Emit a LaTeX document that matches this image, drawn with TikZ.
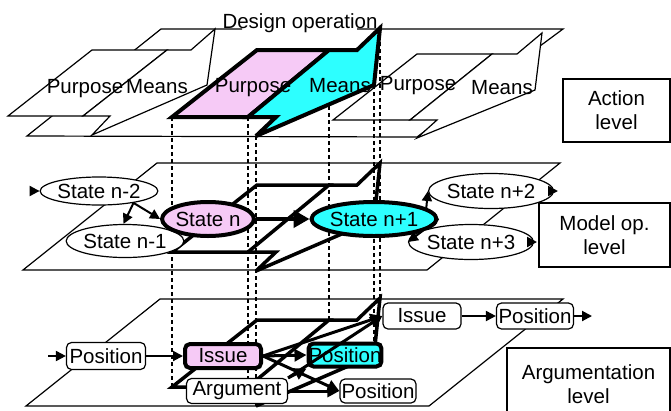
\documentclass[tikz,border=0pt]{standalone}
\usepackage{fontspec}
\setmainfont{Liberation Sans}
\usetikzlibrary{shapes.geometric,arrows.meta}

\definecolor{oppink}{RGB}{246,202,246}
\definecolor{opcyan}{RGB}{45,255,255}

\tikzset{
    lbl/.style={font=\fontsize{20.5}{24}\selectfont},
    plane/.style={line width=1.2pt},
    sheet/.style={draw,fill=white,line width=1.2pt},
    opsheet/.style={draw,line width=4pt,line join=miter,miter limit=4},
    proj/.style={line width=3.5pt,line join=miter,miter limit=4},
    drop/.style={line width=2.2pt,dash pattern=on 4pt off 3pt},
    statenode/.style={ellipse,draw,fill=white,line width=1.2pt,inner sep=0pt,lbl},
    ibisnode/.style={rectangle,rounded corners=5pt,draw,fill=white,line width=1.2pt,inner sep=0pt,lbl},
    levelbox/.style={rectangle,draw,fill=white,line width=1.2pt,align=center,lbl},
    arr/.style={-{Triangle[length=10pt,width=10pt]},line width=2pt},
    bigarr/.style={-{Triangle[length=16pt,width=17pt]},line width=4pt},
    ibisarr/.style={-{Triangle[length=12pt,width=12pt]},line width=3pt},
}

\begin{document}
\begin{tikzpicture}[x=1pt,y=-1pt]
    \clip (0,0) rectangle (671,410);

    %PLANE
    \draw[plane] (242,29) -- (161,29) -- (27,136) -- (417,137) -- (563,29) -- (357,29);
    \draw[plane] (157,163) -- (560,163) -- (427,270) -- (23,270) -- cycle;
    \draw[plane] (160,299) -- (563,299) -- (429,406) -- (26,406) -- cycle;

    %SHEET
    \draw[sheet] (8,116) -- (92,50) -- (167,50) -- (83,116) -- cycle;
    \draw[sheet] (83,116) -- (110,116) -- (92,135) -- (207,85) -- (215,29) -- (191,50) -- (167,50) -- cycle;
    \draw[sheet] (333,120) -- (417,54) -- (492,54) -- (410,120) -- cycle;
    \draw[sheet] (410,120) -- (437,120) -- (417,138) -- (535,90) -- (542,33) -- (517,54) -- (492,54) -- cycle;

    %DROP
    \foreach \x/\y in {172/117,248/117,256/136,329/50,374/85,380/28}
        \draw[drop] (\x,\y) -- (\x,\y+270);

    \draw[opsheet,fill=oppink] (172,117) -- (257,50) -- (329,50) -- (248,117) -- cycle;
    \draw[opsheet,fill=opcyan] (248,117) -- (276,117) -- (256,136) -- (374,85) -- (380,28) -- (357,50) -- (329,50) -- cycle;

    \foreach \d in {135,270}{
        \draw[proj] (172,117+\d) -- (257,50+\d) -- (329,50+\d) -- (248,117+\d) -- cycle;
        \draw[proj] (248,117+\d) -- (276,117+\d) -- (256,136+\d) -- (374,85+\d) -- (380,28+\d) -- (357,50+\d) -- (329,50+\d);
    }

    %NODE
    \node[lbl,anchor=base] (dop) at (300,28) {Design operation};
    \node[lbl,anchor=base] (pur1) at (85,93) {Purpose};
    \node[lbl,anchor=base] (mea1) at (157,93) {Means};
    \node[lbl,anchor=base] (pur2) at (253,92) {Purpose};
    \node[lbl,anchor=base] (mea2) at (340,92) {Means};
    \node[lbl,anchor=base] (pur3) at (418,90) {Purpose};
    \node[lbl,anchor=base] (mea3) at (502,94) {Means};

    \node[statenode,minimum width=95pt,minimum height=28pt] (sn2) at (99,191) {State n-2};
    \node[statenode,minimum width=94pt,minimum height=33pt] (sn1) at (125,241) {State n-1};
    \node[statenode,fill=oppink,line width=4pt,minimum width=78pt,minimum height=34pt] (sn) at (208,219) {State n};
    \node[statenode,fill=opcyan,line width=4pt,minimum width=91pt,minimum height=34pt] (snp1) at (374,219) {State n+1};
    \node[statenode,minimum width=93pt,minimum height=35pt] (snp2) at (491,191) {State n+2};
    \node[statenode,minimum width=96pt,minimum height=35pt] (snp3) at (471,242) {State n+3};

    \node[ibisnode,minimum width=79pt,minimum height=27pt] (pos1) at (106,356) {Position};
    \node[ibisnode,fill=oppink,line width=4pt,minimum width=76pt,minimum height=24pt] (iss) at (223,356) {Issue};
    \node[ibisnode,minimum width=101pt,minimum height=25pt] (arg) at (237,391) {Argument};
    \node[ibisnode,fill=opcyan,line width=4pt,minimum width=72pt,minimum height=23pt] (posC) at (345,355) {Position};
    \node[ibisnode,minimum width=76pt,minimum height=24pt] (posL) at (378,391) {Position};
    \node[ibisnode,minimum width=78pt,minimum height=26pt] (issU) at (422,316) {Issue};
    \node[ibisnode,minimum width=77pt,minimum height=26pt] (posR) at (535,316) {Position};

    \node[levelbox,minimum width=107pt,minimum height=63pt] (actLevel) at (616.5,110.5) {Action\\level};
    \node[levelbox,minimum width=131pt,minimum height=64pt] (modLevel) at (604.5,235) {Model op.\\level};
    \node[levelbox,minimum width=163pt,minimum height=72pt] (argLevel) at (588.5,384) {Argumentation\\level};

    \coordinate (inS) at (35,191);
    \coordinate (outS2) at (558,191);
    \coordinate (outS3) at (537,242);
    \coordinate (inP) at (48,356);
    \coordinate (outP) at (592,316);

    %EDGE
    \draw[arr] (inS) -- (sn2);
    \draw[arr] (sn2.-19) -- (sn1.95);
    \draw[arr] (sn2.-19) -- (sn.west);
    \draw[bigarr] (sn) -- (snp1);
    \draw[arr] (snp1.12) -- (snp2.west);
    \draw[arr] (snp1.east) -- (snp3.west);
    \draw[arr] (snp2) -- (outS2);
    \draw[arr] (snp3.east) -- (outS3);

    \draw[arr] (inP) -- (pos1);
    \draw[arr] (pos1) -- (iss);
    \draw[arr] (issU) -- (posR);
    \draw[arr] (posR) -- (outP);
    \draw[ibisarr] (iss.east) -- (posC.west);
    \draw[ibisarr] (iss.east) -- (posL.west);
    \draw[ibisarr] (arg.east) -- (posL.west);
    \draw[ibisarr] (arg.north east) -- (posC.south west);
    \draw[ibisarr] (iss.east) -- (issU.west);
    \draw[ibisarr] (arg.north east) -- (issU.west);
\end{tikzpicture}
\end{document}
